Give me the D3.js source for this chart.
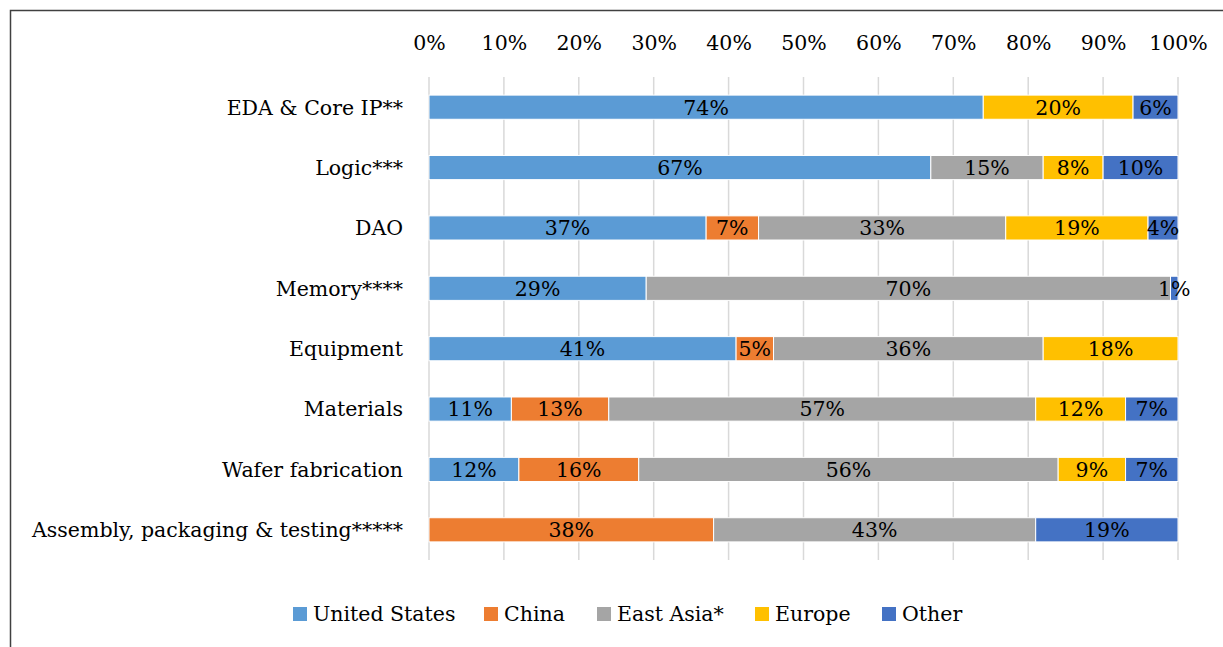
<!DOCTYPE html>
<html>
<head>
<meta charset="utf-8">
<script src="https://cdn.jsdelivr.net/npm/d3@7"></script>
<style>
  html, body { margin: 0; padding: 0; background: #fff; }
  svg { display: block; }
  text { font-family: "DejaVu Serif", "Liberation Serif", serif; fill: #000; }
</style>
</head>
<body>
<svg id="chart" width="1223" height="647"></svg>
<script>
// Segments of the semiconductor value chain
const categories = [
  "EDA & Core IP**",
  "Logic***",
  "DAO",
  "Memory****",
  "Equipment",
  "Materials",
  "Wafer fabrication",
  "Assembly, packaging & testing*****"
];

// Regional share (%) for each segment, in category order
const seriesNames = ["United States", "China", "East Asia*", "Europe", "Other"];
const unitedStates = [74, 67, 37, 29, 41, 11, 12, 0];
const china        = [0, 0, 7, 0, 5, 13, 16, 38];
const eastAsia     = [0, 15, 33, 70, 36, 57, 56, 43];
const europe       = [20, 8, 19, 0, 18, 12, 9, 0];
const other        = [6, 10, 4, 1, 0, 7, 7, 19];

const tickValues = [0, 10, 20, 30, 40, 50, 60, 70, 80, 90, 100];
const colors = ["#5B9BD5", "#ED7D31", "#A5A5A5", "#FFC000", "#4472C4"];

const FONT_SIZE = 20.5;

const seriesValues = [unitedStates, china, eastAsia, europe, other];
const rows = categories.map((c, i) => {
  const r = { category: c };
  seriesNames.forEach((s, j) => { r[s] = seriesValues[j][i]; });
  return r;
});

const svg = d3.select("#chart");

// Outer chart frame (extends past the right and bottom edges)
svg.append("path")
  .attr("d", "M10.5,647 L10.5,10.5 L1223,10.5")
  .attr("fill", "none")
  .attr("stroke", "#404040")
  .attr("stroke-width", 1.5);

const x = d3.scaleLinear().domain([0, 100]).range([429, 1178]);
const y = d3.scaleBand().domain(categories).range([77, 560]).paddingInner(0.6).paddingOuter(0.3);

// Vertical gridlines
svg.append("g")
  .selectAll("line")
  .data(tickValues)
  .join("line")
  .attr("x1", d => x(d)).attr("x2", d => x(d))
  .attr("y1", 77).attr("y2", 560)
  .attr("stroke", "#D9D9D9")
  .attr("stroke-width", 1.5);

// Top axis with percentage labels
const axis = d3.axisTop(x).tickValues(tickValues).tickFormat(d => d + "%").tickSize(0).tickPadding(0);
const axisG = svg.append("g").attr("transform", "translate(0,50)").call(axis);
axisG.select(".domain").remove();
axisG.selectAll("text")
  .attr("font-family", "DejaVu Serif")
  .attr("font-size", FONT_SIZE)
  .attr("fill", "#000")
  .attr("dy", 0);

// Category labels
svg.append("g")
  .selectAll("text")
  .data(categories)
  .join("text")
  .attr("x", 403)
  .attr("y", d => y(d) + y.bandwidth() / 2)
  .attr("dy", "0.36em")
  .attr("text-anchor", "end")
  .attr("font-size", FONT_SIZE)
  .text(d => d);

// Stacked bars
const stack = d3.stack().keys(seriesNames);
const stacked = stack(rows);

const layers = svg.append("g")
  .selectAll("g")
  .data(stacked)
  .join("g")
  .attr("fill", (d, i) => colors[i]);

layers.selectAll("rect")
  .data(d => d.filter(p => p[1] - p[0] > 0))
  .join("rect")
  .attr("x", d => x(d[0]))
  .attr("y", d => y(d.data.category))
  .attr("width", d => x(d[1]) - x(d[0]))
  .attr("height", y.bandwidth())
  .attr("stroke", "#fff")
  .attr("stroke-width", 1);

// Value labels centred in each segment
layers.selectAll("text")
  .data(d => d.filter(p => p[1] - p[0] > 0))
  .join("text")
  .attr("x", d => x((d[0] + d[1]) / 2))
  .attr("y", d => y(d.data.category) + y.bandwidth() / 2)
  .attr("dy", "0.36em")
  .attr("text-anchor", "middle")
  .attr("font-size", FONT_SIZE)
  .attr("fill", "#000")
  .text(d => (d[1] - d[0]) + "%");

// Legend
const legendX = [293, 484, 597, 755, 882];
const legend = svg.append("g")
  .selectAll("g")
  .data(seriesNames)
  .join("g")
  .attr("transform", (d, i) => `translate(${legendX[i]},607)`);

legend.append("rect")
  .attr("width", 14).attr("height", 14)
  .attr("fill", (d, i) => colors[i]);

legend.append("text")
  .attr("x", 20)
  .attr("y", 7)
  .attr("dy", "0.36em")
  .attr("font-size", FONT_SIZE)
  .text(d => d);
</script>
</body>
</html>
